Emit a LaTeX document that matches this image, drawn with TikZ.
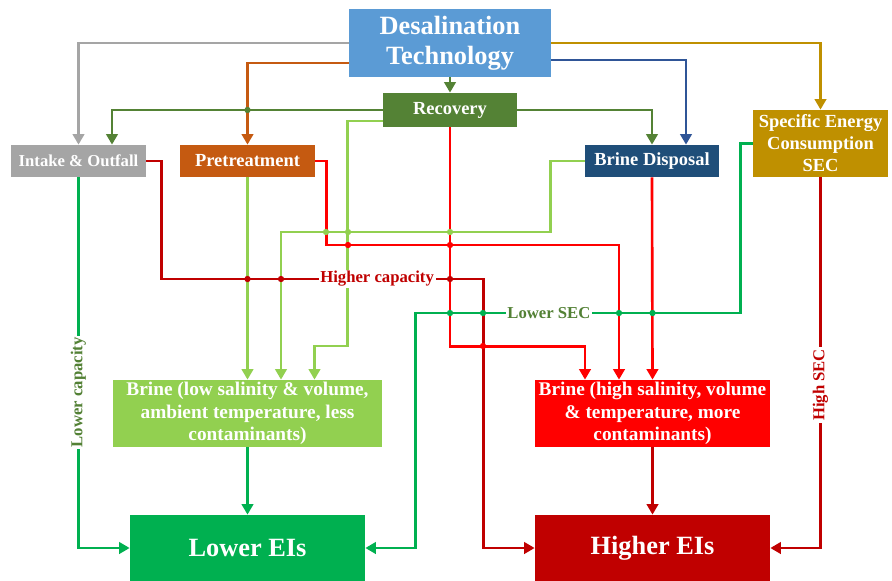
\documentclass[tikz,border=0pt]{standalone}
\usepackage{fontspec}
\setmainfont{Liberation Serif}
\usetikzlibrary{arrows.meta}

\definecolor{techblue}{HTML}{5B9BD5}
\definecolor{recgreen}{HTML}{548235}
\definecolor{intakegrey}{HTML}{A5A5A5}
\definecolor{pretorange}{HTML}{C55A11}
\definecolor{disposalblue}{HTML}{1F4E79}
\definecolor{secgold}{HTML}{BF9000}
\definecolor{brinelight}{HTML}{92D050}
\definecolor{brinered}{HTML}{FF0000}
\definecolor{eigreen}{HTML}{00B050}
\definecolor{eired}{HTML}{C00000}
\definecolor{linkblue}{HTML}{2F5597}
\definecolor{taggreen}{HTML}{538135}

\begin{document}
\begin{tikzpicture}[x=0.02cm, y=-0.02cm,
    box/.style={fill=#1, text=white, inner sep=0pt, align=center},
    link/.style={draw=#1, line width=1.5pt, -{Triangle[width=6.5pt,length=6pt]}},
    tag/.style={fill=white, text=#1, inner sep=1pt, font=\fontsize{9.5}{11}\selectfont\bfseries}]
        \useasboundingbox (0,0) rectangle (892,581);

        % Boxes
        \node[box=techblue, minimum width=4.04cm, minimum height=1.36cm, font=\fontsize{15}{17}\selectfont\bfseries] (tech) at (450,43) {Desalination\\Technology};
        \node[box=recgreen, minimum width=2.68cm, minimum height=0.68cm, font=\fontsize{10.5}{12}\selectfont\bfseries] (rec) at (450,110) {Recovery};
        \node[box=intakegrey, minimum width=2.7cm, minimum height=0.64cm, font=\fontsize{9.5}{11}\selectfont\bfseries] (intake) at (78.5,161) {Intake \& Outfall};
        \node[box=pretorange, minimum width=2.7cm, minimum height=0.64cm, font=\fontsize{10.5}{12}\selectfont\bfseries] (pretreat) at (247.5,161) {Pretreatment};
        \node[box=disposalblue, minimum width=2.68cm, minimum height=0.64cm, font=\fontsize{10.5}{12}\selectfont\bfseries] (disposal) at (652,161) {Brine Disposal};
        \node[box=secgold, minimum width=2.7cm, minimum height=1.34cm, font=\fontsize{10.5}{12.5}\selectfont\bfseries] (sec) at (820.5,143.5) {Specific Energy\\Consumption\\SEC};
        \node[box=brinelight, minimum width=5.38cm, minimum height=1.34cm, font=\fontsize{11}{12.8}\selectfont\bfseries] (brinelow) at (247.5,413.5) {Brine (low salinity \& volume,\\ambient temperature, less\\contaminants)};
        \node[box=brinered, minimum width=4.7cm, minimum height=1.34cm, font=\fontsize{11}{12.8}\selectfont\bfseries] (brinehigh) at (652.5,413.5) {Brine (high salinity, volume\\\& temperature, more\\contaminants)};
        \node[box=eigreen, minimum width=4.7cm, minimum height=1.32cm, font=\fontsize{15}{17}\selectfont\bfseries] (lower) at (247.5,548) {Lower EIs};
        \node[box=eired, minimum width=4.7cm, minimum height=1.32cm, font=\fontsize{15}{17}\selectfont\bfseries] (higher) at (652.5,548) {Higher EIs};

        % From the technology box
        \draw[link=intakegrey] (tech.west) -| (intake.north);
        \draw[link=pretorange] ([shift={(0,20)}]tech.west) -| (pretreat.north);
        \draw[link=recgreen] (tech.south) -- (rec.north);
        \draw[link=linkblue] ([shift={(0,17)}]tech.east) -| ([shift={(34,0)}]disposal.north);
        \draw[link=secgold] (tech.east) -| (sec.north);

        % From recovery
        \draw[link=recgreen] (rec.west) -| ([shift={(33.5,0)}]intake.north);
        \draw[link=recgreen] (rec.east) -| (disposal.north);

        % Towards the low brine box
        \draw[link=brinelight] (pretreat.south) -- (brinelow.north);
        \draw[link=brinelight] (disposal.west) -- ++(-34,0) -- ++(0,71) -| ([shift={(33.5,0)}]brinelow.north);
        \draw[link=brinelight] ([shift={(0,11)}]rec.west) -- ++(-35,0) -- ++(0,225) -| ([shift={(67,0)}]brinelow.north);

        % Towards the high brine box
        \draw[link=brinered] (pretreat.east) -- ++(11,0) -- ++(0,84) -| ([shift={(-33.5,0)}]brinehigh.north);
        \draw[link=brinered] (rec.south) -- ++(0,219) -| ([shift={(-67.5,0)}]brinehigh.north);
        \draw[link=brinered] (disposal.south) -- (brinehigh.north);

        % Capacity and SEC links
        \draw[link=eired] (intake.east) -- ++(15,0) -- ++(0,118) -- node[tag=eired, pos=0.67] (hicap) {Higher capacity} ++(322,0) |- (higher.west);
        \draw[link=eigreen] (intake.south) |- node[tag=taggreen, rotate=90, pos=0.29] (locap) {Lower capacity} (lower.west);
        \draw[link=eigreen] (sec.west) -- ++(-12,0) -- ++(0,169.5) -- node[tag=taggreen, pos=0.59] (losec) {Lower SEC} ++(-325,0) |- (lower.east);
        \draw[link=eired] (sec.south) |- node[tag=eired, rotate=90, pos=0.28] (hisec) {High SEC} (higher.east);

        % Brine to impacts
        \draw[link=eigreen] (brinelow.south) -- (lower.north);
        \draw[link=eired] (brinehigh.south) -- (higher.north);

        % Line hops at crossings
        \fill[recgreen] (247.5,110) circle (1.8pt);
        \foreach \x in {247.5,281,450} \fill[eired] (\x,279) circle (1.8pt);
        \foreach \x in {348,450} \fill[brinered] (\x,245) circle (1.8pt);
        \foreach \x in {326,348,450} \fill[brinelight] (\x,232) circle (1.8pt);
        \foreach \x in {450,483,619,652.5} \fill[eigreen] (\x,313) circle (1.8pt);
        \fill[brinered] (483,346) circle (1.8pt);
    \end{tikzpicture}
\end{document}
